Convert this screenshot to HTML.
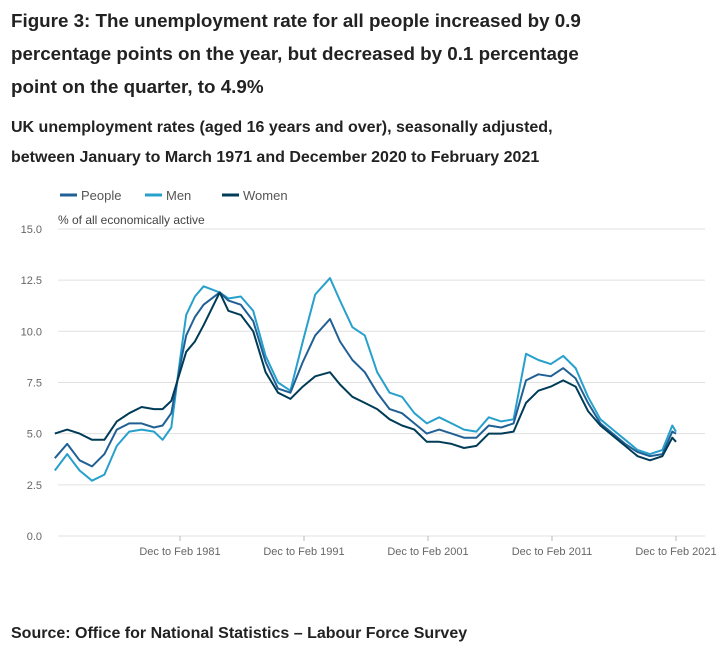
<!DOCTYPE html>
<html><head><meta charset="utf-8">
<style>
body{margin:0;width:722px;height:652px;background:#fff;font-family:"Liberation Sans",sans-serif;color:#222;position:relative;overflow:hidden}
.t{position:absolute;left:11px;font-weight:bold;margin:0;white-space:nowrap}
</style></head><body>
<h1 class="t" style="top:4px;font-size:18.8px;line-height:33px">Figure 3: The unemployment rate for all people increased by 0.9<br>percentage points on the year, but decreased by 0.1 percentage<br>point on the quarter, to 4.9%</h1>
<h2 class="t" style="top:113px;font-size:16px;line-height:30px">UK unemployment rates (aged 16 years and over), seasonally adjusted,<br>between January to March 1971 and December 2020 to February 2021</h2>
<svg id="c" width="722" height="600" style="position:absolute;left:0;top:0" font-family="Liberation Sans, sans-serif"></svg>
<div class="t" style="top:625px;font-size:16px">Source: Office for National Statistics – Labour Force Survey</div>
<script>
const years=[1971,1972,1973,1974,1975,1976,1977,1978,1979,1979.7,1980.4,1981.1,1981.6,1982.3,1983,1984.3,1985,1986,1987,1988,1989,1990,1991,1992,1993.2,1994,1995,1996,1997,1998,1999,2000,2001,2002,2003,2004,2005,2006,2007,2008,2009,2010,2011,2012,2013,2014,2015,2016,2017,2018,2019,2020,2020.8,2021.1];
const people=[3.8,4.5,3.7,3.4,4.0,5.2,5.5,5.5,5.3,5.4,6.0,8.3,9.8,10.7,11.3,11.9,11.5,11.3,10.5,8.5,7.2,7.0,8.5,9.8,10.6,9.5,8.6,8.0,7.0,6.2,6.0,5.5,5.0,5.2,5.0,4.8,4.8,5.4,5.3,5.5,7.6,7.9,7.8,8.2,7.7,6.5,5.5,5.0,4.5,4.1,3.9,4.0,5.1,5.0];
const men=[3.2,4.0,3.2,2.7,3.0,4.4,5.1,5.2,5.1,4.7,5.3,8.6,10.8,11.7,12.2,11.9,11.6,11.7,11.0,8.8,7.5,7.1,9.5,11.8,12.6,11.5,10.2,9.8,8.0,7.0,6.8,6.0,5.5,5.8,5.5,5.2,5.1,5.8,5.6,5.7,8.9,8.6,8.4,8.8,8.2,6.8,5.7,5.2,4.7,4.2,4.0,4.2,5.4,5.1];
const women=[5.0,5.2,5.0,4.7,4.7,5.6,6.0,6.3,6.2,6.2,6.6,8.0,9.0,9.5,10.3,11.9,11.0,10.8,10.0,8.0,7.0,6.7,7.3,7.8,8.0,7.4,6.8,6.5,6.2,5.7,5.4,5.2,4.6,4.6,4.5,4.3,4.4,5.0,5.0,5.1,6.5,7.1,7.3,7.6,7.3,6.1,5.4,4.9,4.4,3.9,3.7,3.9,4.8,4.6];
const yTicks=[0,2.5,5,7.5,10,12.5,15];
const xTickYears=[1981.1,1991.1,2001.1,2011.1,2021.1];
const xTickLabels=["Dec to Feb 1981","Dec to Feb 1991","Dec to Feb 2001","Dec to Feb 2011","Dec to Feb 2021"];
const svg=document.getElementById('c');const NS='http://www.w3.org/2000/svg';
const X=y=>56+(y-1971.1)*12.4, Y=v=>536-v*20.47;
function mk(t,a){const e=document.createElementNS(NS,t);for(const k in a)e.setAttribute(k,a[k]);svg.appendChild(e);return e;}
yTicks.forEach(v=>{const l=mk('line',{x1:58,x2:705,y1:Y(v),y2:Y(v),stroke:'#e0e0e0','stroke-width':1});


const t=mk('text',{x:42,y:Y(v)+4,'text-anchor':'end','font-size':11,fill:'#666'});t.textContent=v.toFixed(1);

});
xTickYears.forEach((yy,i)=>{const t=mk('text',{x:X(yy),y:555,'text-anchor':'middle','font-size':11,fill:'#666'});t.textContent=xTickLabels[i];


const k=mk('line',{x1:X(yy),x2:X(yy),y1:536,y2:541,stroke:'#bbb'});

});
const yt=mk('text',{x:58,y:224,'font-size':12,fill:'#444'});yt.textContent='% of all economically active';


const series=[["People",people,"#206095"],["Men",men,"#27a0cc"],["Women",women,"#003c57"]];
[1,0,2].forEach(i=>{const s=series[i];
const d=s[1].map((v,j)=>(j?'L':'M')+X(years[j]).toFixed(1)+','+Y(v).toFixed(1)).join('');
const p=mk('path',{d:d,fill:'none',stroke:s[2],'stroke-width':2,'stroke-linejoin':'round'});

});
const lx=[60,145,222];
series.forEach((s,i)=>{const l=mk('line',{x1:lx[i],x2:lx[i]+17,y1:195,y2:195,stroke:s[2],'stroke-width':3});


const t=mk('text',{x:lx[i]+21,y:200,'font-size':13,fill:'#555'});t.textContent=s[0];

});
</script>
</body></html>
